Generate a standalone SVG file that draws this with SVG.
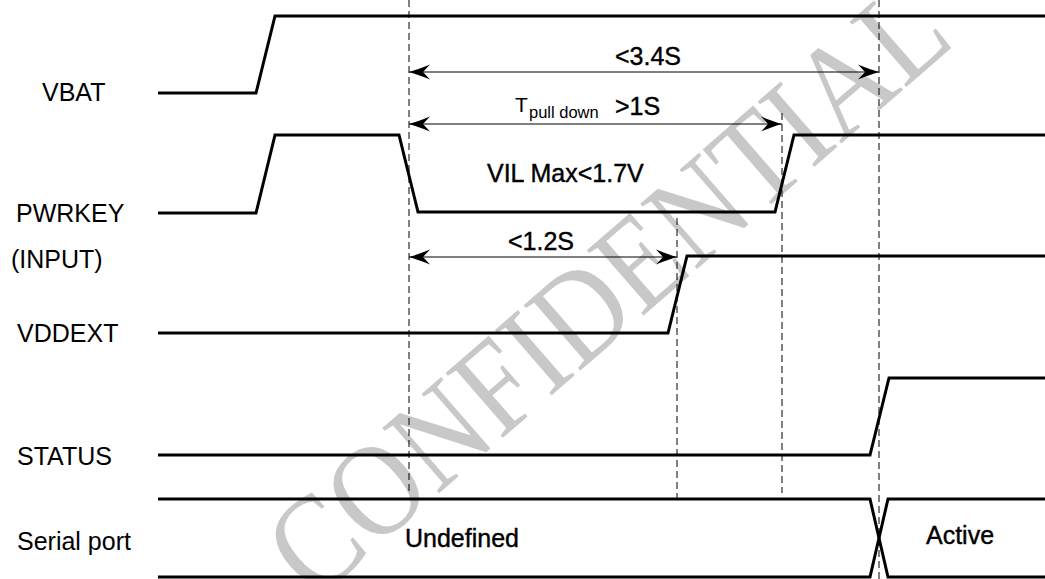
<svg xmlns="http://www.w3.org/2000/svg" width="1045" height="579" viewBox="0 0 1045 579">
  <style>
    .bg { fill: #ffffff; }
    .wm { font-family: "Liberation Serif", serif; font-size: 132px; fill: #c8c8c8; }
    .sig { fill: none; stroke: #000; stroke-width: 3; stroke-linejoin: miter; }
    .dash { fill: none; stroke: #000; stroke-width: 1; stroke-dasharray: 7 4; }
    .dim { fill: none; stroke: #000; stroke-width: 1; }
    .lbl { font-family: "Liberation Sans", Arial, sans-serif; font-size: 25px; fill: #000; }
    .val { font-family: "Liberation Sans", Arial, sans-serif; font-size: 25px; fill: #000; stroke: #000; stroke-width: 0.4; }
  </style>
  <defs>
    <marker id="ah" viewBox="-23 -9 25 18" refX="0" refY="0" markerWidth="25" markerHeight="18" markerUnits="userSpaceOnUse" orient="auto-start-reverse">
      <path d="M0,0 Q-9,-2.5 -21,-7.5 L-14,0 L-21,7.5 Q-9,2.5 0,0 Z" fill="#000"/>
    </marker>
  </defs>
  <rect class="bg" x="0" y="0" width="1045" height="579"/>

  <g id="watermark">
    <text class="wm" x="0" y="0" text-anchor="middle" transform="translate(636,322) rotate(-41) scale(0.88,1)">CONFIDENTIAL</text>
  </g>

  <g id="vbat">
    <text class="lbl" x="42" y="101">VBAT</text>
    <path class="sig" d="M158,93 L256,93 L275,16 L1045,16"/>
  </g>

  <g id="pwrkey">
    <text class="lbl" x="16" y="222">PWRKEY</text>
    <text class="lbl" x="11" y="268">(INPUT)</text>
    <path class="sig" d="M158,213 L256,213 L275,135 L399,135 L418,212 L775,212 L794,135 L1045,135"/>
    <text class="val" x="487" y="182">VIL Max&lt;1.7V</text>
  </g>

  <g id="vddext">
    <text class="lbl" x="17" y="342">VDDEXT</text>
    <path class="sig" d="M158,333 L668,333 L687,256 L1045,256"/>
  </g>

  <g id="status">
    <text class="lbl" x="17" y="465">STATUS</text>
    <path class="sig" d="M158,455 L870,455 L889,378 L1045,378"/>
  </g>

  <g id="serial">
    <text class="lbl" x="17" y="550">Serial port</text>
    <path class="sig" d="M158,499 L870,499 L888,577 L1045,577"/>
    <path class="sig" d="M158,577 L870,577 L888,499 L1045,499"/>
    <text class="val" x="405" y="547">Undefined</text>
    <text class="val" x="926" y="544">Active</text>
  </g>

  <g id="connectors">
    <line class="dash" x1="409" y1="0" x2="409" y2="492"/>
    <line class="dash" x1="782" y1="113" x2="782" y2="493"/>
    <line class="dash" x1="677" y1="218" x2="677" y2="500"/>
    <line class="dash" x1="879" y1="0" x2="879" y2="579"/>

    <line class="dim" x1="409" y1="72" x2="879" y2="72" marker-start="url(#ah)" marker-end="url(#ah)"/>
    <text class="val" x="615" y="65">&lt;3.4S</text>

    <line class="dim" x1="409" y1="124" x2="782" y2="124" marker-start="url(#ah)" marker-end="url(#ah)"/>
    <text class="lbl" x="515" y="112" style="font-size:21px">T</text>
    <text class="lbl" x="529" y="118" style="font-size:16.5px">pull down</text>
    <text class="val" x="615" y="115">&gt;1S</text>

    <line class="dim" x1="409" y1="257" x2="677" y2="257" marker-start="url(#ah)" marker-end="url(#ah)"/>
    <text class="val" x="508" y="250">&lt;1.2S</text>
  </g>
</svg>
